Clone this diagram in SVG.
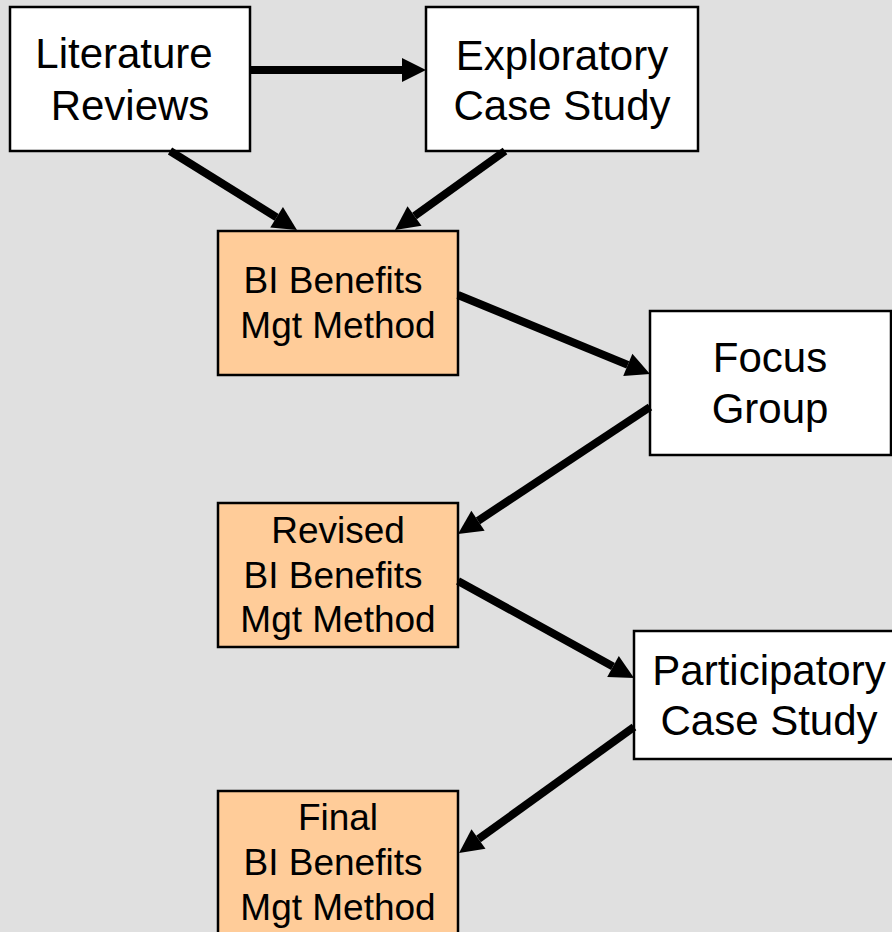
<svg xmlns="http://www.w3.org/2000/svg" width="892" height="932" viewBox="0 0 892 932">
<defs>
<style>
.w{fill:#ffffff;stroke:#000;stroke-width:2.5}
.o{fill:#ffcc99;stroke:#000;stroke-width:2.5}
.t{font-family:"Liberation Sans",Arial,sans-serif;fill:#000;text-anchor:middle}
.big{font-size:42px}
.sm{font-size:37px}
.c{fill:none;stroke:#000;stroke-width:8;marker-end:url(#ah)}
</style>
<marker id="ah" markerUnits="strokeWidth" markerWidth="3.2" markerHeight="3.2" refX="0" refY="1.5" orient="auto" overflow="visible">
<path d="M0,0 L3,1.5 L0,3 z" fill="#000"/>
</marker>
</defs>
<rect width="892" height="932" fill="#e0e0e0"/>
<g id="lit">
<rect class="w" x="10" y="7" width="240" height="144"/>
<text class="t big" x="124" y="68">Literature</text>
<text class="t big" x="130" y="120">Reviews</text>
</g>
<g id="expl">
<rect class="w" x="426" y="7" width="272" height="144"/>
<text class="t big" x="562" y="70">Exploratory</text>
<text class="t big" x="562" y="120">Case Study</text>
</g>
<g id="bi1">
<rect class="o" x="218" y="231" width="240" height="144"/>
<text class="t sm" x="333" y="293">BI Benefits</text>
<text class="t sm" x="338" y="338">Mgt Method</text>
</g>
<g id="focus">
<rect class="w" x="650" y="311" width="241" height="144"/>
<text class="t big" x="770" y="372">Focus</text>
<text class="t big" x="770" y="423">Group</text>
</g>
<g id="bi2">
<rect class="o" x="218" y="503" width="240" height="144"/>
<text class="t sm" x="338" y="543">Revised</text>
<text class="t sm" x="333" y="588">BI Benefits</text>
<text class="t sm" x="338" y="632">Mgt Method</text>
</g>
<g id="part">
<rect class="w" x="634" y="631" width="262" height="128"/>
<text class="t big" x="769" y="685">Participatory</text>
<text class="t big" x="769" y="735">Case Study</text>
</g>
<g id="bi3">
<rect class="o" x="218" y="791" width="240" height="150"/>
<text class="t sm" x="338" y="830">Final</text>
<text class="t sm" x="333" y="875">BI Benefits</text>
<text class="t sm" x="338" y="920">Mgt Method</text>
</g>
<g id="connectors">
<line class="c" x1="250" y1="70" x2="402" y2="70"/>
<line class="c" x1="170" y1="151" x2="276.6" y2="217.3"/>
<line class="c" x1="505" y1="151" x2="414.5" y2="216"/>
<line class="c" x1="458" y1="295" x2="627.8" y2="364.9"/>
<line class="c" x1="650" y1="407" x2="478" y2="520.8"/>
<line class="c" x1="458" y1="581" x2="613" y2="666.4"/>
<line class="c" x1="634" y1="727" x2="478.5" y2="839"/>
</g>
</svg>
